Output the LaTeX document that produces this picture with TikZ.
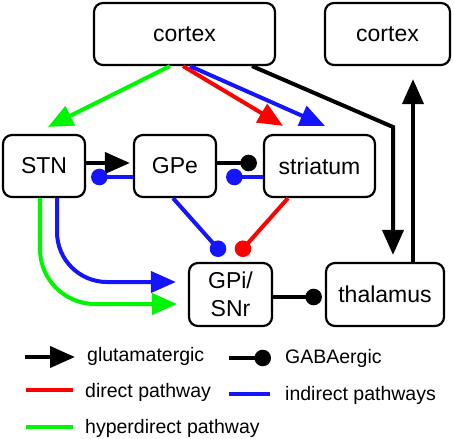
\documentclass[tikz,border=0pt]{standalone}
\usepackage{fontspec}
\setmainfont{Liberation Sans}
\usetikzlibrary{arrows.meta}
\definecolor{cgreen}{RGB}{0,245,0}
\definecolor{cred}{RGB}{255,0,0}
\definecolor{cblue}{RGB}{20,20,255}
\begin{document}
\begin{tikzpicture}[x=1pt,y=-1pt,
  box/.style={draw,line width=2.2pt,rounded corners=9pt,inner sep=0pt,
    font=\fontsize{23}{28}\selectfont,align=center,minimum height=62pt},
  con/.style={line width=4pt},
  glu/.style={con,-{Triangle[length=25pt,width=21pt]}},
  gaba/.style={con,-{Circle[length=16.5pt]}},
  leg/.style={font=\fontsize{19.5}{23}\selectfont,anchor=base west,inner sep=0pt}]
\useasboundingbox (0,0) rectangle (454,438);
% boxes
\node[box,minimum width=181pt] (cortex) at (184.5,34) {cortex};
\node[box,minimum width=125pt] (cortex2) at (387.5,34) {cortex};
\node[box,minimum width=82pt] (stn) at (44,166) {STN};
\node[box,minimum width=82pt] (gpe) at (175,166) {GPe};
\node[box,minimum width=111pt] (str) at (319.5,166) {striatum};
\node[box,minimum width=83pt,minimum height=63pt] (gpi) at (230.5,294.5) {GPi/\\SNr};
\node[box,minimum width=118pt,minimum height=63pt] (thal) at (385,294.5) {thalamus};
% cortex projections
\draw[glu,cgreen] ([xshift=-14.5pt]cortex.south) -- ([xshift=4pt,yshift=7pt]stn.north);
\draw[glu,cred] ([xshift=-1.5pt]cortex.south) -- ([xshift=-36.5pt,yshift=8pt]str.north);
\draw[glu,cblue] ([xshift=5.5pt]cortex.south) -- ([xshift=5.5pt,yshift=8pt]str.north);
\coordinate (bend) at (393,127);
\draw[glu] ([xshift=67.5pt]cortex.south) -- (bend) -- ([xshift=8pt,yshift=7pt]thal.north);
\coordinate (tc) at ([xshift=28pt]thal.north);
\coordinate (ct) at ([yshift=-13pt]cortex2.south);
\draw[glu] (tc) -- (tc |- ct);
% STN - GPe - striatum
\draw[glu] ([yshift=3pt]stn.east) -- ([xshift=-3pt,yshift=3pt]gpe.west);
\draw[gaba] ([yshift=3pt]gpe.east) -- ([xshift=-6pt,yshift=3pt]str.west);
\draw[gaba,cblue] ([yshift=-11pt]gpe.west) -- ([xshift=5pt,yshift=-11pt]stn.east);
\draw[gaba,cblue] ([yshift=-11pt]str.west) -- ([xshift=9pt,yshift=-11pt]gpe.east);
% to GPi
\draw[gaba,cblue] ([xshift=-2pt]gpe.south) -- ([xshift=-7pt,yshift=7pt]gpi.north);
\draw[gaba,cred] ([xshift=-31.5pt]str.south) -- ([xshift=7pt,yshift=7pt]gpi.north);
\draw[glu,cblue,rounded corners=50pt] ([xshift=13pt]stn.south) |- ([xshift=-12pt,yshift=12.5pt]gpi.west);
\draw[glu,cgreen,rounded corners=55pt] ([xshift=-4pt]stn.south) |- ([xshift=-11pt,yshift=-9.5pt]gpi.west);
\draw[gaba] ([yshift=-2.5pt]gpi.east) -- ([xshift=-3pt,yshift=-2.5pt]thal.west);
% legend
\coordinate (l1a) at (25,357); \coordinate (l1b) at (75,357);
\draw[glu] (l1a) -- (l1b);
\node[leg] (t1) at (87,361) {glutamatergic};
\coordinate (l2a) at (229,358); \coordinate (l2b) at (271,358);
\draw[gaba] (l2a) -- (l2b);
\node[leg] (t2) at (285,363) {GABAergic};
\coordinate (l3a) at (26,390); \coordinate (l3b) at (73,390);
\draw[con,cred] (l3a) -- (l3b);
\node[leg] (t3) at (85,397) {direct pathway};
\coordinate (l4a) at (229,394); \coordinate (l4b) at (270,394);
\draw[con,cblue] (l4a) -- (l4b);
\node[leg] (t4) at (285,400) {indirect pathways};
\coordinate (l5a) at (26,427); \coordinate (l5b) at (73,427);
\draw[con,cgreen] (l5a) -- (l5b);
\node[leg] (t5) at (85,433) {hyperdirect pathway};
\end{tikzpicture}
\end{document}
